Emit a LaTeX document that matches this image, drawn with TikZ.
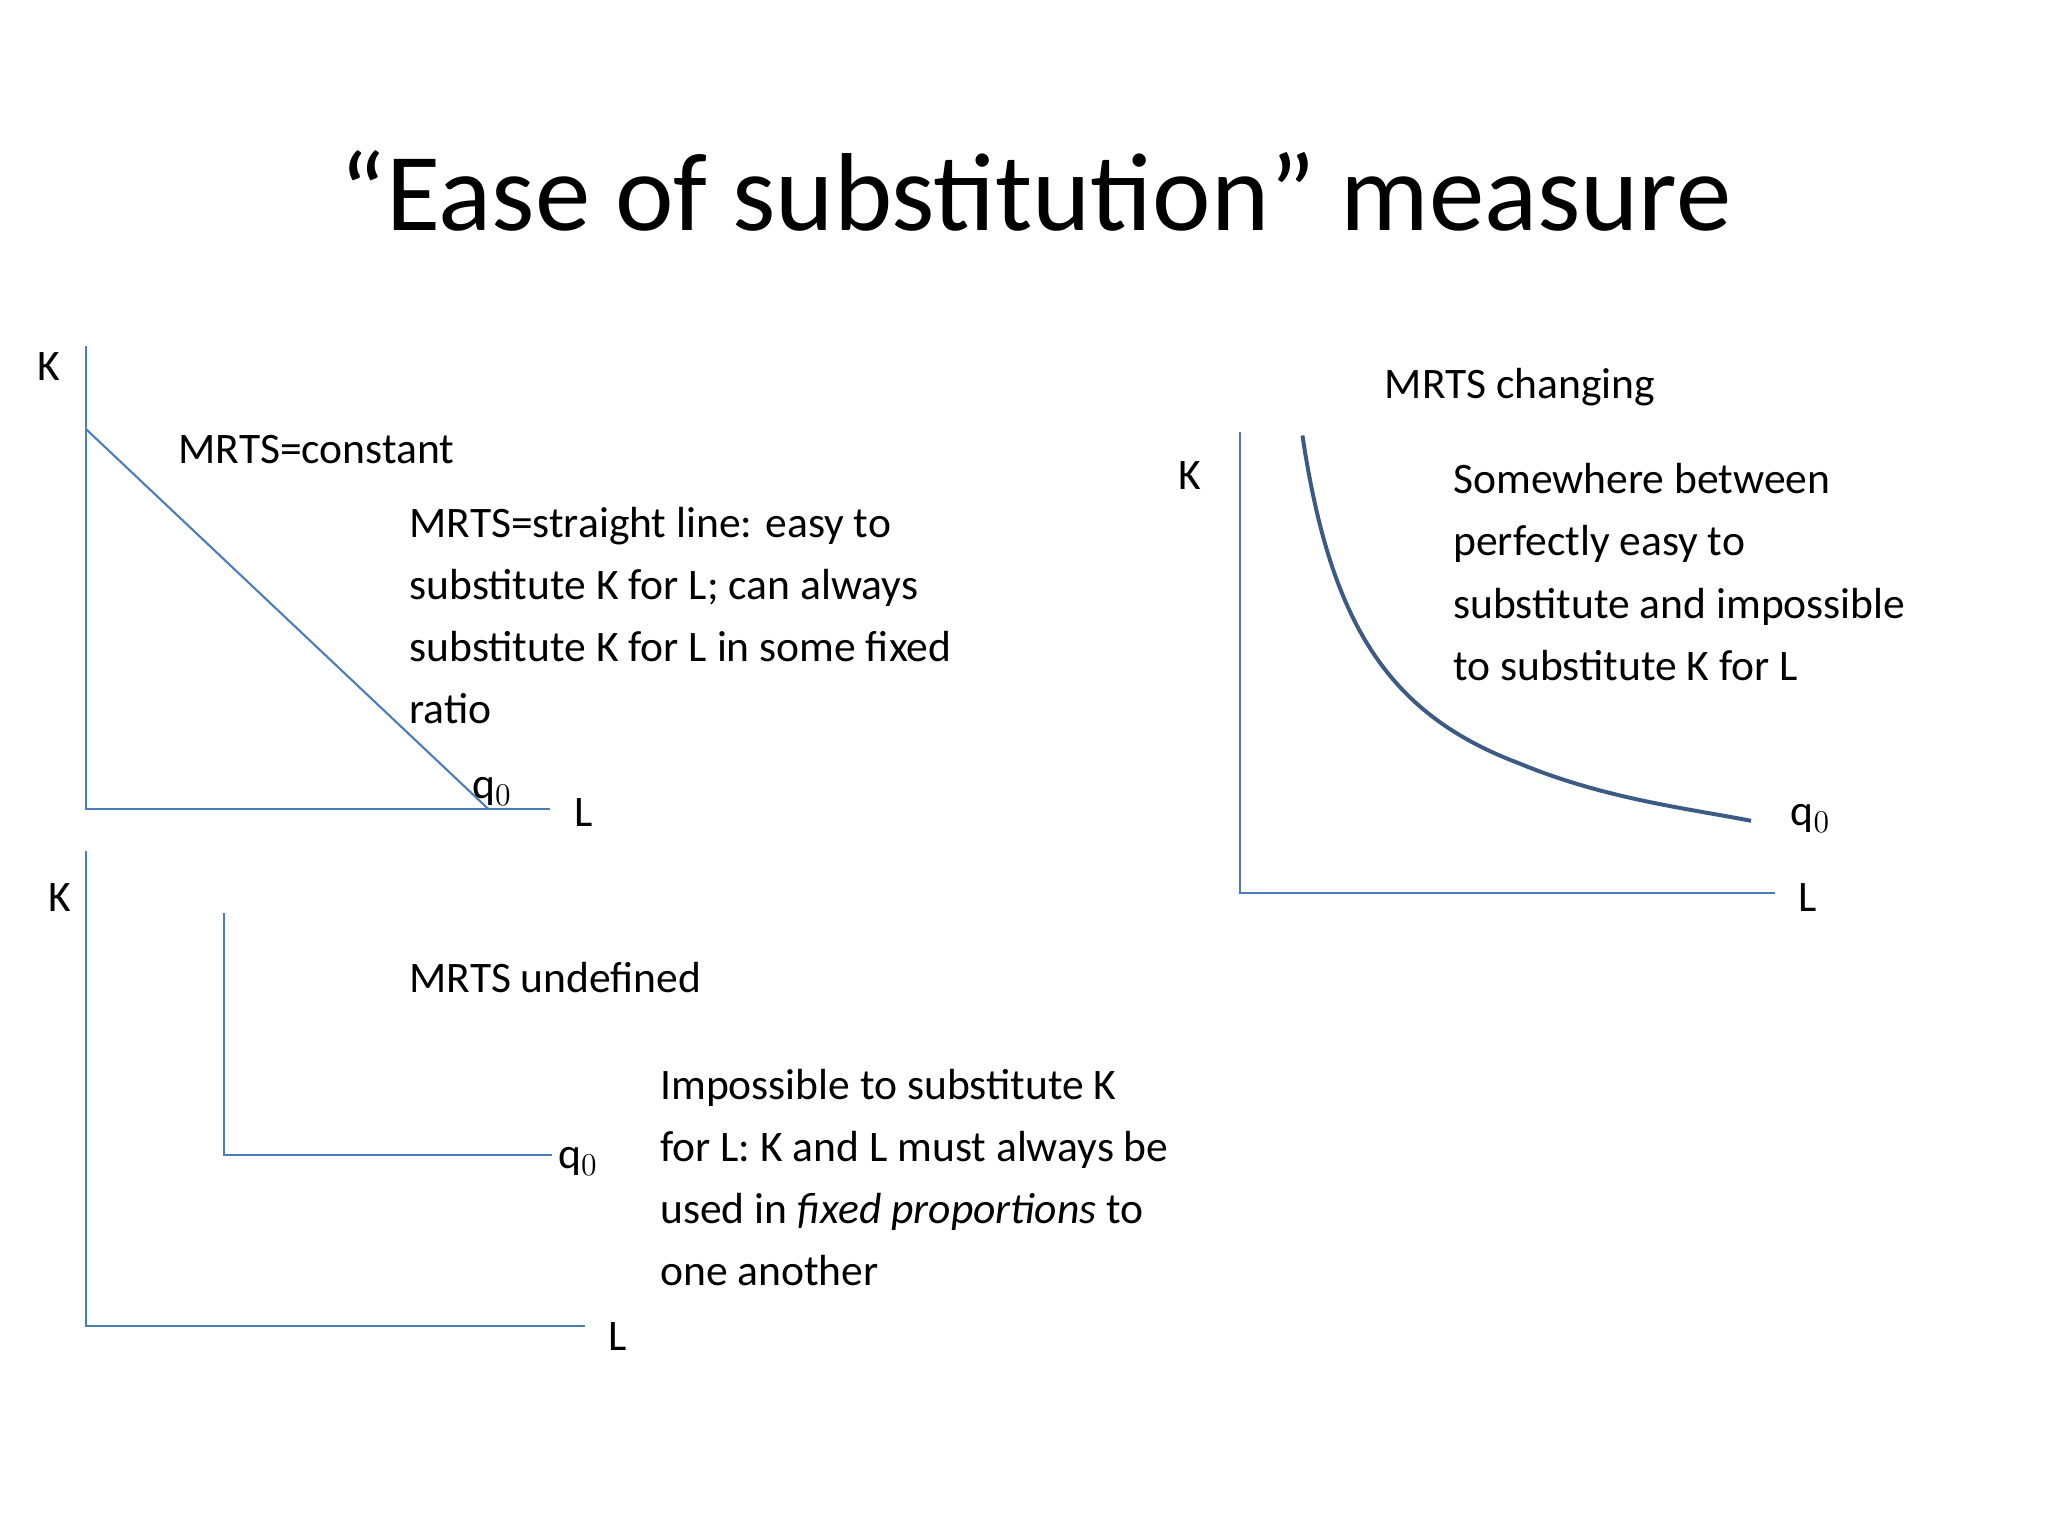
\documentclass[tikz,border=0pt]{standalone}
\usepackage{fontspec}
\setmainfont{Carlito}
\begin{document}
\begin{tikzpicture}[x=0.5pt,y=-0.5pt,
  ax/.style={draw=axblue,line width=0.8pt},
  txt/.style={anchor=west,inner sep=0pt,font=\fontsize{16.5}{23.5}\selectfont},
  lbl/.style={inner sep=0pt,font=\fontsize{16.5}{20}\selectfont}]
\definecolor{axblue}{HTML}{4A7EBB}
\definecolor{curveblue}{HTML}{3B5B85}
\fill[white] (0,0) rectangle (1552,1164);
\node[inner sep=0pt,font=\fontsize{42}{48}\selectfont] (title) at (785,145) {“Ease of substitution” measure};
% top-left
\coordinate (o1) at (65,613);
\coordinate (k1) at (65,262);
\coordinate (l1) at (417,613);
\coordinate (a1) at (65,325);
\coordinate (b1) at (370,613);
\draw[ax] (k1) -- (o1) -- (l1);
\draw[ax] (a1) -- (b1);
\node[lbl] (K1) at (37,278) {K};
\node[lbl] (L1) at (442,616) {L};
\node[lbl] (q1) at (373,600) {q$_0$};
\node[txt] (c1) at (135,341) {MRTS=constant};
\node[txt,align=left,anchor=north west] (p1) at (310,384) {MRTS=straight line: easy to\\substitute K for L; can always\\substitute K for L in some fixed\\ratio};
% bottom-left
\coordinate (o2) at (65,1005);
\coordinate (k2) at (65,645);
\coordinate (l2) at (443,1005);
\coordinate (a2) at (170,692);
\coordinate (c2c) at (170,875);
\coordinate (b2) at (418,875);
\draw[ax] (k2) -- (o2) -- (l2);
\draw[ax] (a2) -- (c2c) -- (b2);
\node[lbl] (K2) at (45,680) {K};
\node[lbl] (L2) at (468,1013) {L};
\node[lbl] (q2) at (438,880) {q$_0$};
\node[txt] (u2) at (310,741) {MRTS undefined};
\node[txt,align=left,anchor=north west] (p2) at (500,810) {Impossible to substitute K\\for L: K and L must always be\\used in \textit{fixed proportions} to\\one another};
% right
\coordinate (o3) at (940,677);
\coordinate (k3) at (940,327);
\coordinate (l3) at (1345,677);
\coordinate (s3) at (987,330);
\coordinate (m3) at (1150,578);
\coordinate (e3) at (1327,622);
\draw[ax] (k3) -- (o3) -- (l3);
\draw[curveblue,line width=1.5pt] (s3) .. controls (1008,470) and (1050,540) .. (m3) .. controls (1215,605) and (1275,612) .. (e3);
\node[lbl] (K3) at (902,360) {K};
\node[lbl] (L3) at (1370,680) {L};
\node[lbl] (q3) at (1372,620) {q$_0$};
\node[txt] (ch3) at (1049,293) {MRTS changing};
\node[txt,align=left,anchor=north west] (p3) at (1101,351) {Somewhere between\\perfectly easy to\\substitute and impossible\\to substitute K for L};
\end{tikzpicture}
\end{document}
